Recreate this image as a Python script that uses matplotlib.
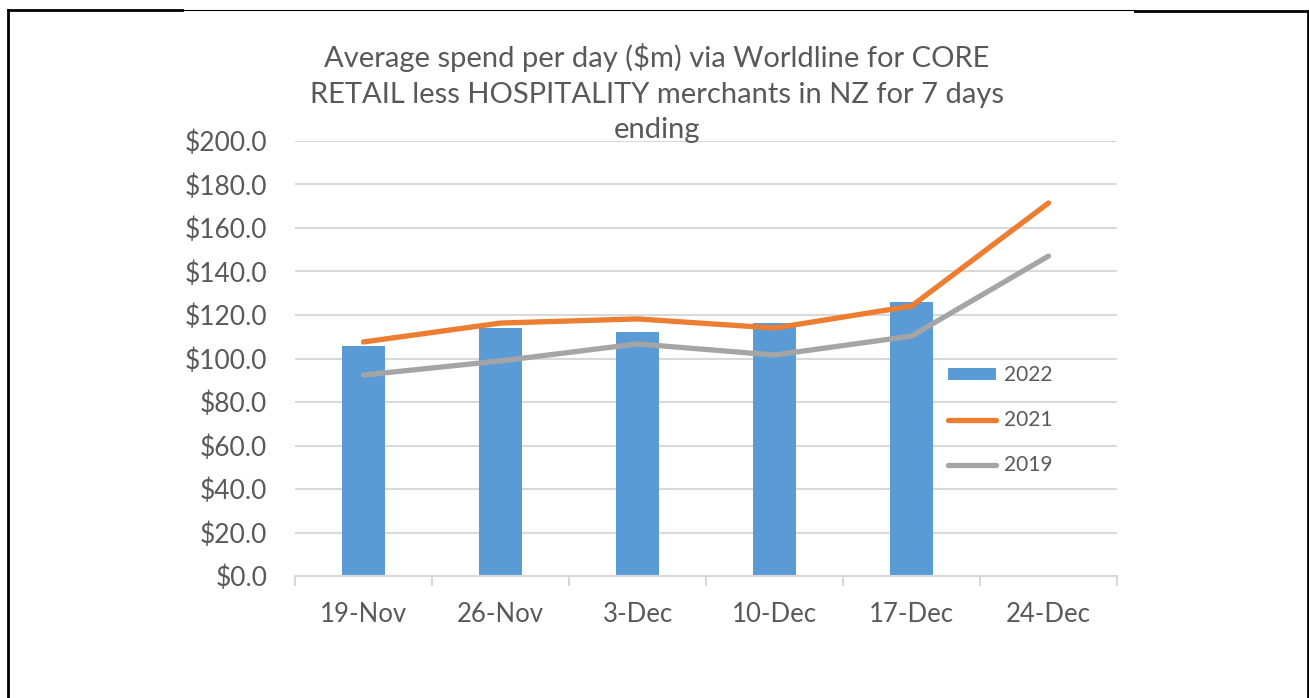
import numpy as np
import matplotlib.pyplot as plt
from matplotlib.lines import Line2D

# Data
weeks = ["19-Nov", "26-Nov", "3-Dec", "10-Dec", "17-Dec", "24-Dec"]
spend_2022 = [105.7, 114.0, 112.2, 116.3, 126.0]
spend_2021 = [107.6, 116.3, 118.2, 114.0, 124.1, 171.5]
spend_2019 = [92.4, 98.9, 106.7, 101.6, 110.3, 147.1]
yticks = np.arange(0, 201, 20)

TEXT = "#595959"
plt.rcParams['font.family'] = ['Lato', 'DejaVu Sans']

W, H = 1309, 698
fig = plt.figure(figsize=(W / 100, H / 100), dpi=100)
ax = fig.add_axes([295 / W, 1 - 576 / H, 822 / W, 435 / H])

x = np.arange(len(weeks))
b22 = ax.bar(x[:len(spend_2022)], spend_2022, width=0.31, color="#5B9BD5", label="2022", zorder=2)
l21, = ax.plot(x, spend_2021, color="#ED7D31", lw=3.8, solid_capstyle="round",
               solid_joinstyle="round", label="2021", zorder=3)
l19, = ax.plot(x, spend_2019, color="#A5A5A5", lw=3.8, solid_capstyle="round",
               solid_joinstyle="round", label="2019", zorder=3)

ax.set_xlim(-0.5, len(weeks) - 0.5)
ax.set_ylim(0, 200)
ax.set_yticks(yticks)
ax.set_yticklabels([f"${v:.1f}" for v in yticks])
ax.set_xticks(x)
ax.set_xticklabels(weeks)
ax.tick_params(axis="y", length=0, pad=20, labelsize=19, labelcolor=TEXT)
ax.tick_params(axis="x", length=0, pad=19, labelsize=18.5, labelcolor=TEXT)
# small ticks between categories on the x axis
ax.set_xticks(np.arange(-0.5, len(weeks), 1), minor=True)
ax.tick_params(axis="x", which="minor", length=7, width=1.5, color="#D9D9D9")
ax.grid(axis="y", color="#D9D9D9", lw=1.5, zorder=0)
for s in ["top", "right", "left"]:
    ax.spines[s].set_visible(False)
ax.spines["bottom"].set_color("#D9D9D9")
ax.spines["bottom"].set_linewidth(1.5)

leg = ax.legend([b22, l21, l19], ["2022", "2021", "2019"], loc="upper left",
                bbox_to_anchor=(643 / 822, 0.508), frameon=False, borderpad=0,
                fontsize=15, labelcolor=TEXT, handlelength=2.3, handleheight=0.55,
                labelspacing=1.2, handletextpad=0.35)

fig.text(657 / W, 1 - 93 / H,
         "Average spend per day ($m) via Worldline for CORE\n"
         "RETAIL less HOSPITALITY merchants in NZ for 7 days\nending",
         ha="center", va="center", fontsize=21, color=TEXT, linespacing=1.45)

# page border fragments
fig.add_artist(Line2D([8 / W, 8 / W], [0, 1 - 10 / H], color="black", lw=2))
fig.add_artist(Line2D([8 / W, 182 / W], [1 - 10 / H, 1 - 10 / H], color="black", lw=2))
fig.add_artist(Line2D([182 / W, 1135 / W], [1 - 10 / H, 1 - 10 / H], color="black", lw=0.8))
fig.add_artist(Line2D([1135 / W, 1308 / W], [1 - 11 / H, 1 - 11 / H], color="black", lw=2))
fig.add_artist(Line2D([1308 / W, 1308 / W], [0, 1 - 11 / H], color="black", lw=2))

fig.savefig("out.png", dpi=100)
